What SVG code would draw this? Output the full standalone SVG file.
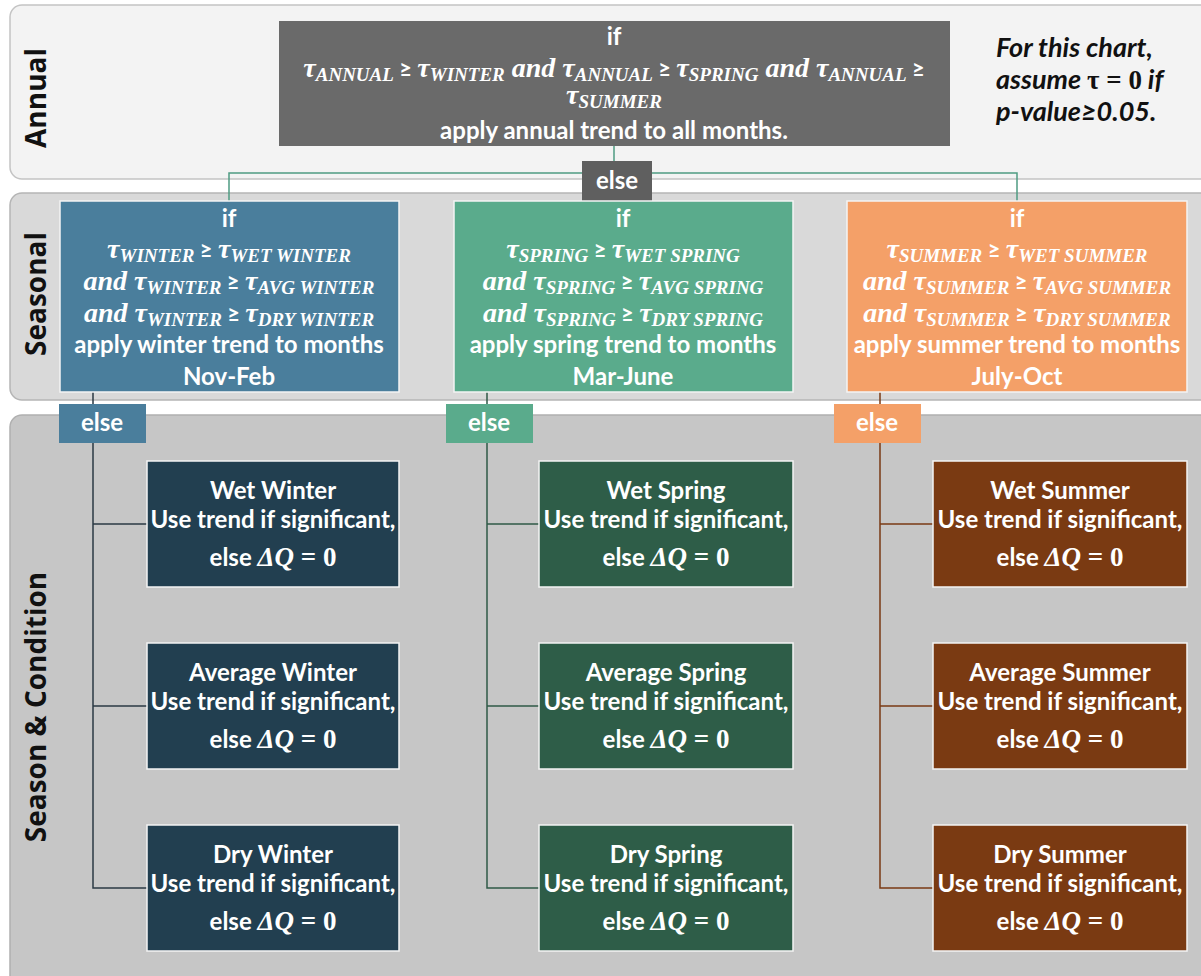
<svg xmlns="http://www.w3.org/2000/svg" width="1201" height="976" viewBox="0 0 1201 976">
<style>
.band-a{fill:#f3f3f3;stroke:#c4c4c4;stroke-width:1.5}
.band-s{fill:#d9d9d9;stroke:#b5b5b5;stroke-width:1.5}
.band-c{fill:#c6c6c6;stroke:#b0b0b0;stroke-width:1.5}
.blab{font-family:"Open Sans","Liberation Sans",sans-serif;font-weight:bold;font-size:28px;fill:#111;text-anchor:middle}
.t{font-family:Lato,"Liberation Sans",sans-serif;font-weight:bold;font-size:24px;fill:#fff;text-anchor:middle}
.m{font-family:"Liberation Serif",serif;font-style:italic;font-weight:bold;font-size:28px;fill:#fff;text-anchor:middle}
.s{font-size:19px}
.g{font-family:Lato,"DejaVu Sans",sans-serif;font-style:normal;font-size:22px}
.mi{font-family:"Liberation Serif",serif;font-style:italic;font-weight:bold;font-size:27px}
.mu{font-family:"Liberation Serif",serif;font-style:normal;font-weight:bold;font-size:27px}
.note{font-family:Lato,"Liberation Sans",sans-serif;font-style:italic;font-weight:bold;font-size:27px;fill:#111}
.box{stroke:#f4f4f4;stroke-width:1.5}
.ca{stroke:#4f9c82;stroke-width:1.5;fill:none}
.cw{stroke:#2b3a44;stroke-width:1.5;fill:none}
.cs{stroke:#2f5a47;stroke-width:1.5;fill:none}
.cu{stroke:#7a3a14;stroke-width:1.5;fill:none}
</style>
<rect width="1201" height="976" fill="#ffffff"/>
<g id="bands">
<rect class="band-a" x="10" y="5" width="1210" height="174" rx="12"/>
<rect class="band-s" x="10" y="193" width="1210" height="207" rx="12"/>
<rect class="band-c" x="10" y="415" width="1210" height="580" rx="12"/>
<text class="blab" transform="translate(46 98) rotate(-90)">Annual</text>
<text class="blab" transform="translate(46 294) rotate(-90)">Seasonal</text>
<text class="blab" transform="translate(46 707) rotate(-90)">Season &amp; Condition</text>
</g>
<g id="connectors">
<path class="ca" d="M614 146V161M229 201V173H582M652 173H1017V201"/>
<path class="cw" d="M93 392V404M93 443V888H147M93 524H147M93 706H147"/>
<path class="cs" d="M487 392V404M487 443V888H539M487 524H539M487 706H539"/>
<path class="cu" d="M880 392V404M880 443V888H933M880 524H933M880 706H933"/>
</g>
<g id="annual">
<rect x="279" y="21" width="671" height="125" fill="#6a6a6a"/>
<text class="t" x="614" y="45">if</text>
<text class="m" x="614" y="77">τ<tspan class="s" dy="4">ANNUAL</tspan><tspan class="g" dy="-4"> ≥ </tspan>τ<tspan class="s" dy="4">WINTER</tspan><tspan dy="-4"> and τ</tspan><tspan class="s" dy="4">ANNUAL</tspan><tspan class="g" dy="-4"> ≥ </tspan>τ<tspan class="s" dy="4">SPRING</tspan><tspan dy="-4"> and τ</tspan><tspan class="s" dy="4">ANNUAL</tspan><tspan class="g" dy="-4"> ≥</tspan></text>
<text class="m" x="614" y="104">τ<tspan class="s" dy="4">SUMMER</tspan></text>
<text class="t" x="614" y="139">apply annual trend to all months.</text>
</g>
<g id="note">
<text class="note" x="996" y="57">For this chart,</text>
<text class="note" x="996" y="89">assume <tspan class="mu" font-size="28">τ = 0</tspan> if</text>
<text class="note" x="996" y="121">p-value≥0.05.</text>
</g>
<g id="annual-else">
<rect x="582" y="161" width="70" height="41" fill="#5f5f5f"/>
<text class="t" x="617" y="189">else</text>
</g>
<g id="winter">
<rect class="box" x="60" y="201" width="339" height="191" fill="#4a7e9c"/>
<text class="t" x="229" y="227">if</text>
<text class="m" x="229" y="258">τ<tspan class="s" dy="4">WINTER</tspan><tspan class="g" dy="-4"> ≥ </tspan>τ<tspan class="s" dy="4">WET WINTER</tspan></text>
<text class="m" x="229" y="290">and τ<tspan class="s" dy="4">WINTER</tspan><tspan class="g" dy="-4"> ≥ </tspan>τ<tspan class="s" dy="4">AVG WINTER</tspan></text>
<text class="m" x="229" y="322">and τ<tspan class="s" dy="4">WINTER</tspan><tspan class="g" dy="-4"> ≥ </tspan>τ<tspan class="s" dy="4">DRY WINTER</tspan></text>
<text class="t" x="229" y="353">apply winter trend to months</text>
<text class="t" x="229" y="385">Nov-Feb</text>
</g>
<g id="spring">
<rect class="box" x="454" y="201" width="339" height="191" fill="#5aab8c"/>
<text class="t" x="623" y="227">if</text>
<text class="m" x="623" y="258">τ<tspan class="s" dy="4">SPRING</tspan><tspan class="g" dy="-4"> ≥ </tspan>τ<tspan class="s" dy="4">WET SPRING</tspan></text>
<text class="m" x="623" y="290">and τ<tspan class="s" dy="4">SPRING</tspan><tspan class="g" dy="-4"> ≥ </tspan>τ<tspan class="s" dy="4">AVG SPRING</tspan></text>
<text class="m" x="623" y="322">and τ<tspan class="s" dy="4">SPRING</tspan><tspan class="g" dy="-4"> ≥ </tspan>τ<tspan class="s" dy="4">DRY SPRING</tspan></text>
<text class="t" x="623" y="353">apply spring trend to months</text>
<text class="t" x="623" y="385">Mar-June</text>
</g>
<g id="summer">
<rect class="box" x="847" y="201" width="340" height="191" fill="#f4a068"/>
<text class="t" x="1017" y="227">if</text>
<text class="m" x="1017" y="258">τ<tspan class="s" dy="4">SUMMER</tspan><tspan class="g" dy="-4"> ≥ </tspan>τ<tspan class="s" dy="4">WET SUMMER</tspan></text>
<text class="m" x="1017" y="290">and τ<tspan class="s" dy="4">SUMMER</tspan><tspan class="g" dy="-4"> ≥ </tspan>τ<tspan class="s" dy="4">AVG SUMMER</tspan></text>
<text class="m" x="1017" y="322">and τ<tspan class="s" dy="4">SUMMER</tspan><tspan class="g" dy="-4"> ≥ </tspan>τ<tspan class="s" dy="4">DRY SUMMER</tspan></text>
<text class="t" x="1017" y="353">apply summer trend to months</text>
<text class="t" x="1017" y="385">July-Oct</text>
</g>
<g id="winter-else"><rect x="59" y="404" width="87" height="39" fill="#4a7e9c"/><text class="t" x="102" y="431">else</text></g>
<g id="spring-else"><rect x="446" y="404" width="87" height="39" fill="#5aab8c"/><text class="t" x="489" y="431">else</text></g>
<g id="summer-else"><rect x="834" y="404" width="87" height="39" fill="#f4a068"/><text class="t" x="877" y="431">else</text></g>
<g id="wet-winter"><rect class="box" x="147" y="461" width="252" height="126" fill="#223f50"/><text class="t" x="273" y="499">Wet Winter</text><text class="t" x="273" y="528">Use trend if significant,</text><text class="t" x="273" y="566">else <tspan class="mi">ΔQ</tspan><tspan class="mu"> = 0</tspan></text></g>
<g id="avg-winter"><rect class="box" x="147" y="643" width="252" height="126" fill="#223f50"/><text class="t" x="273" y="681">Average Winter</text><text class="t" x="273" y="710">Use trend if significant,</text><text class="t" x="273" y="748">else <tspan class="mi">ΔQ</tspan><tspan class="mu"> = 0</tspan></text></g>
<g id="dry-winter"><rect class="box" x="147" y="825" width="252" height="126" fill="#223f50"/><text class="t" x="273" y="863">Dry Winter</text><text class="t" x="273" y="892">Use trend if significant,</text><text class="t" x="273" y="930">else <tspan class="mi">ΔQ</tspan><tspan class="mu"> = 0</tspan></text></g>
<g id="wet-spring"><rect class="box" x="539" y="461" width="254" height="126" fill="#2e5d48"/><text class="t" x="666" y="499">Wet Spring</text><text class="t" x="666" y="528">Use trend if significant,</text><text class="t" x="666" y="566">else <tspan class="mi">ΔQ</tspan><tspan class="mu"> = 0</tspan></text></g>
<g id="avg-spring"><rect class="box" x="539" y="643" width="254" height="126" fill="#2e5d48"/><text class="t" x="666" y="681">Average Spring</text><text class="t" x="666" y="710">Use trend if significant,</text><text class="t" x="666" y="748">else <tspan class="mi">ΔQ</tspan><tspan class="mu"> = 0</tspan></text></g>
<g id="dry-spring"><rect class="box" x="539" y="825" width="254" height="126" fill="#2e5d48"/><text class="t" x="666" y="863">Dry Spring</text><text class="t" x="666" y="892">Use trend if significant,</text><text class="t" x="666" y="930">else <tspan class="mi">ΔQ</tspan><tspan class="mu"> = 0</tspan></text></g>
<g id="wet-summer"><rect class="box" x="933" y="461" width="254" height="126" fill="#7a3a12"/><text class="t" x="1060" y="499">Wet Summer</text><text class="t" x="1060" y="528">Use trend if significant,</text><text class="t" x="1060" y="566">else <tspan class="mi">ΔQ</tspan><tspan class="mu"> = 0</tspan></text></g>
<g id="avg-summer"><rect class="box" x="933" y="643" width="254" height="126" fill="#7a3a12"/><text class="t" x="1060" y="681">Average Summer</text><text class="t" x="1060" y="710">Use trend if significant,</text><text class="t" x="1060" y="748">else <tspan class="mi">ΔQ</tspan><tspan class="mu"> = 0</tspan></text></g>
<g id="dry-summer"><rect class="box" x="933" y="825" width="254" height="126" fill="#7a3a12"/><text class="t" x="1060" y="863">Dry Summer</text><text class="t" x="1060" y="892">Use trend if significant,</text><text class="t" x="1060" y="930">else <tspan class="mi">ΔQ</tspan><tspan class="mu"> = 0</tspan></text></g>
</svg>
